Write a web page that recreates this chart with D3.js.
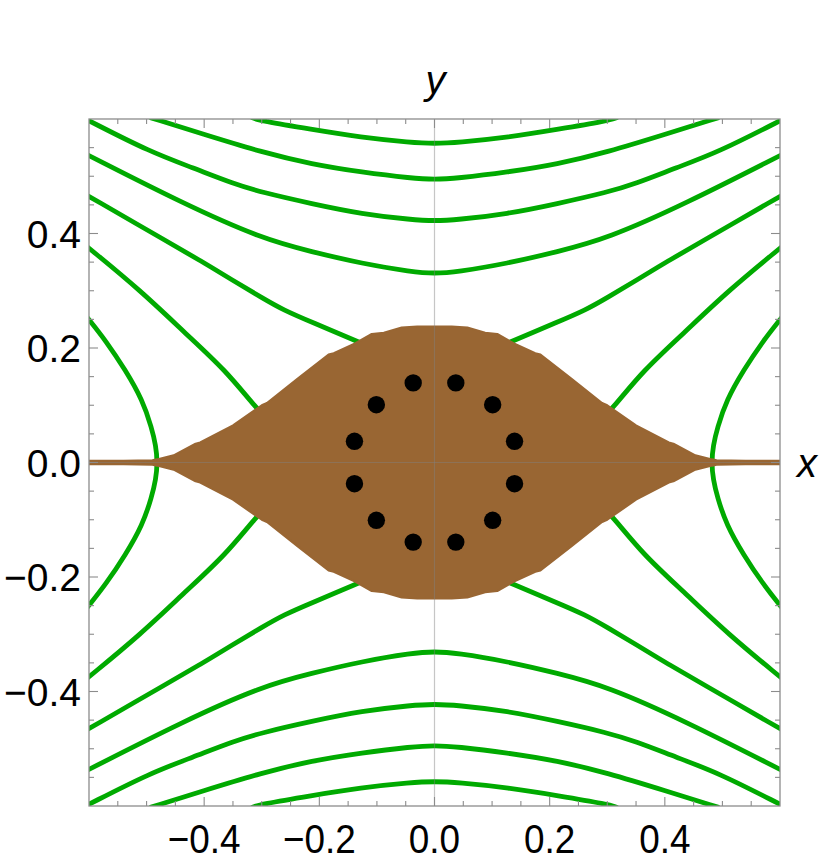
<!DOCTYPE html>
<html>
<head>
<meta charset="utf-8">
<script src="https://cdn.jsdelivr.net/npm/d3@7"></script>
<style>
  body { margin: 0; background: #fff; }
</style>
</head>
<body>
<div id="my_dataviz"></div>
<script>
// upper-right quadrant of each green contour, [x, y] in data units (mirrored to the other quadrants)
const curveA = [[0, 0.557], [0.041, 0.559], [0.128, 0.568], [0.215, 0.582], [0.302, 0.597], [0.316, 0.602]];
const curveB = [[0, 0.494], [0.039, 0.4965], [0.126, 0.507], [0.213, 0.521], [0.300, 0.542], [0.403, 0.574], [0.492, 0.602]];
const curveC = [[0, 0.422], [0.039, 0.424], [0.126, 0.434], [0.213, 0.452], [0.300, 0.472], [0.349, 0.487], [0.420, 0.515], [0.493, 0.542], [0.602, 0.598]];
const curveD = [[0, 0.330], [0.039, 0.333], [0.126, 0.3475], [0.213, 0.368], [0.300, 0.391], [0.436, 0.452], [0.602, 0.537]];
const curveE = [[0.10, 0.197], [0.13, 0.210], [0.213, 0.245], [0.262, 0.266], [0.300, 0.288], [0.350, 0.318], [0.407, 0.353], [0.461, 0.384], [0.602, 0.466]];
const curveF = [[0.28, 0.065], [0.31, 0.095], [0.3626, 0.161], [0.432, 0.225], [0.510, 0.300], [0.602, 0.376]];
const curveG = [[0.481, 0], [0.484, 0.030], [0.491, 0.060], [0.507, 0.109], [0.5365, 0.161], [0.571, 0.213], [0.602, 0.252]];

// upper half of the brown oscillation envelope, x >= 0
const envX = [0, 0.030, 0.057, 0.088, 0.109, 0.138, 0.175, 0.184, 0.237, 0.291, 0.300, 0.350, 0.407, 0.415, 0.453, 0.482, 0.490, 0.540, 0.602];
const envY = [0.2375, 0.2375, 0.236, 0.2265, 0.2245, 0.208, 0.191, 0.1885, 0.147, 0.104, 0.100, 0.065, 0.035, 0.033, 0.0125, 0.0055, 0.004, 0.0032, 0.003];

// black points
const dotX = [0.037, 0.101, 0.139, 0.139, 0.101, 0.037, -0.037, -0.101, -0.139, -0.139, -0.101, -0.037];
const dotY = [0.139, 0.101, 0.037, -0.037, -0.101, -0.139, -0.139, -0.101, -0.037, 0.037, 0.101, 0.139];

// ticks
const majorTicks = [-0.4, -0.2, 0.0, 0.2, 0.4];
const minorTicks = [-0.55, -0.5, -0.45, -0.35, -0.3, -0.25, -0.15, -0.1, -0.05, 0.05, 0.1, 0.15, 0.25, 0.3, 0.35, 0.45, 0.5, 0.55];

const green = "#00aa00", brown = "#996633";

const box = {left: 89, top: 119, right: 780, bottom: 806};

const svg = d3.select("#my_dataviz")
  .append("svg")
    .attr("width", 822)
    .attr("height", 866);

const x = d3.scaleLinear().domain([-0.6, 0.6]).range([box.left, box.right]);
const y = d3.scaleLinear().domain([-0.6, 0.6]).range([box.bottom, box.top]);

svg.append("defs").append("clipPath")
    .attr("id", "clip")
  .append("rect")
    .attr("x", box.left)
    .attr("y", box.top)
    .attr("width", box.right - box.left)
    .attr("height", box.bottom - box.top);

const plot = svg.append("g").attr("clip-path", "url(#clip)");

const line = d3.line()
  .x(d => x(d[0]))
  .y(d => y(d[1]))
  .curve(d3.curveBasis);

// helpers to reflect a quadrant
const flipX = pts => pts.map(p => [-p[0], p[1]]);
const flipY = pts => pts.map(p => [p[0], -p[1]]);

const greenPaths = [];
// curves crossing x = 0 (U shapes, top and bottom)
[curveA, curveB, curveC, curveD].forEach(q => {
  const full = flipX(q).reverse().concat(q.slice(1));
  greenPaths.push(full, flipY(full));
});
// curves crossing y = 0 (side arcs)
{
  const full = flipY(curveG).reverse().concat(curveG.slice(1));
  greenPaths.push(full, flipX(full));
}
// pieces that run into the brown region
[curveE, curveF].forEach(q => {
  greenPaths.push(q, flipX(q), flipY(q), flipX(flipY(q)));
});

plot.selectAll("path.contour")
  .data(greenPaths)
  .join("path")
    .attr("class", "contour")
    .attr("d", line)
    .attr("fill", "none")
    .attr("stroke", green)
    .attr("stroke-width", 4.8)
    .attr("stroke-linecap", "round")
    .attr("stroke-linejoin", "round");

// brown envelope, closed all the way round
const envUpper = envX.map((v, i) => [v, envY[i]]);
const upperFull = flipX(envUpper).reverse().concat(envUpper.slice(1));
const envelope = upperFull.concat(flipY(upperFull).reverse());

plot.append("path")
    .datum(envelope)
    .attr("d", d3.line().x(d => x(d[0])).y(d => y(d[1])).curve(d3.curveLinearClosed))
    .attr("fill", brown)
    .attr("stroke", brown)
    .attr("stroke-width", 2)
    .attr("stroke-linejoin", "round");

// axes through the origin
plot.append("line")
    .attr("x1", x(0)).attr("x2", x(0))
    .attr("y1", box.top).attr("y2", box.bottom)
    .attr("stroke", "rgba(128,128,128,0.45)")
    .attr("stroke-width", 1.2);
plot.append("line")
    .attr("x1", box.left).attr("x2", box.right)
    .attr("y1", y(0)).attr("y2", y(0))
    .attr("stroke", "rgba(128,128,128,0.45)")
    .attr("stroke-width", 1.2);

// points
plot.selectAll("circle.pt")
  .data(dotX)
  .join("circle")
    .attr("class", "pt")
    .attr("cx", d => x(d))
    .attr("cy", (d, i) => y(dotY[i]))
    .attr("r", 8.7)
    .attr("fill", "#000");

// frame
svg.append("rect")
    .attr("x", box.left)
    .attr("y", box.top)
    .attr("width", box.right - box.left)
    .attr("height", box.bottom - box.top)
    .attr("fill", "none")
    .attr("stroke", "#8c8c8c")
    .attr("stroke-width", 1.3);

// ticks on all four sides, pointing in
const tickG = svg.append("g").attr("stroke", "#8c8c8c").attr("stroke-width", 1.1);
const allTicks = majorTicks.map(v => ({v, len: 9})).concat(minorTicks.map(v => ({v, len: 5})));
allTicks.forEach(t => {
  tickG.append("line").attr("x1", x(t.v)).attr("x2", x(t.v)).attr("y1", box.bottom).attr("y2", box.bottom - t.len);
  tickG.append("line").attr("x1", x(t.v)).attr("x2", x(t.v)).attr("y1", box.top).attr("y2", box.top + t.len);
  tickG.append("line").attr("y1", y(t.v)).attr("y2", y(t.v)).attr("x1", box.left).attr("x2", box.left + t.len);
  tickG.append("line").attr("y1", y(t.v)).attr("y2", y(t.v)).attr("x1", box.right).attr("x2", box.right - t.len);
});

const fmt = v => (v < 0 ? "\u2212" : "") + Math.abs(v).toFixed(1);

svg.selectAll("text.xlab")
  .data(majorTicks)
  .join("text")
    .attr("class", "xlab")
    .attr("transform", d => `translate(${x(d)}, 853) scale(0.9, 1)`)
    .attr("text-anchor", "middle")
    .attr("font-family", "Liberation Sans, Arial, sans-serif")
    .attr("font-size", 41)
    .text(fmt);

svg.selectAll("text.ylab")
  .data(majorTicks)
  .join("text")
    .attr("class", "ylab")
    .attr("x", 81)
    .attr("y", d => y(d) + 14)
    .attr("text-anchor", "end")
    .attr("font-family", "Liberation Sans, Arial, sans-serif")
    .attr("font-size", 39)
    .text(fmt);

// axis names
svg.append("text")
    .attr("x", x(0) + 1)
    .attr("y", 94)
    .attr("text-anchor", "middle")
    .attr("font-family", "Liberation Sans, Arial, sans-serif")
    .attr("font-style", "italic")
    .attr("font-size", 40)
    .text("y");

svg.append("text")
    .attr("x", 797)
    .attr("y", 477)
    .attr("text-anchor", "start")
    .attr("font-family", "Liberation Sans, Arial, sans-serif")
    .attr("font-style", "italic")
    .attr("font-size", 40)
    .text("x");
</script>
</body>
</html>
